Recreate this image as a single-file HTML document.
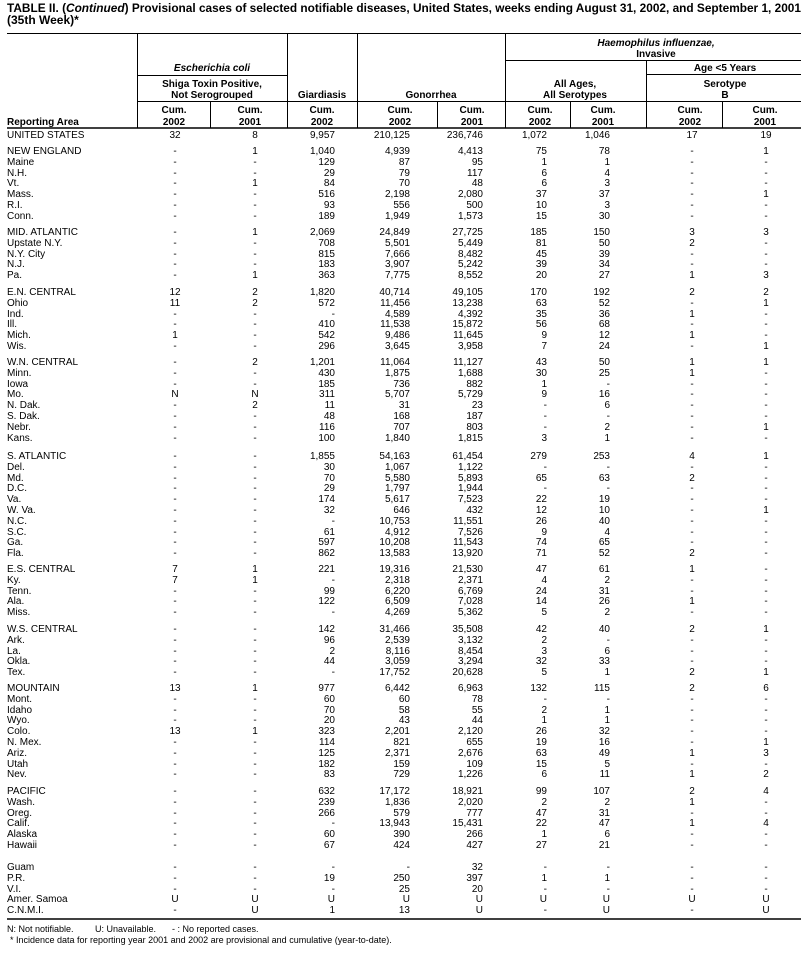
<!DOCTYPE html>
<html><head><meta charset="utf-8"><style>
body{margin:0;background:#fff;}
#w{position:relative;width:808px;height:955px;overflow:hidden;font-family:"Liberation Sans",Arial,sans-serif;color:#000;}
svg{position:absolute;left:0;top:0;}
.r{position:absolute;left:0;width:808px;height:12px;line-height:12px;font-size:10px;white-space:nowrap;}
.r span{position:absolute;top:0;}
.r span:nth-child(1){left:7px;}
.r span:nth-child(2){left:145px;width:60px;text-align:center;}
.r span:nth-child(3){left:225px;width:60px;text-align:center;}
.r span:nth-child(4){left:265px;width:70px;text-align:right;}
.r span:nth-child(5){left:340px;width:70px;text-align:right;}
.r span:nth-child(6){left:413px;width:70px;text-align:right;}
.r span:nth-child(7){left:477px;width:70px;text-align:right;}
.r span:nth-child(8){left:540px;width:70px;text-align:right;}
.r span:nth-child(9){left:662px;width:60px;text-align:center;}
.r span:nth-child(10){left:736px;width:60px;text-align:center;}
</style></head><body><div id="w">
<svg width="808" height="955" font-family="Liberation Sans, Arial, sans-serif">
<text x="7" y="12" font-size="12" font-weight="bold" textLength="794" lengthAdjust="spacingAndGlyphs">TABLE II. (<tspan font-style="italic">Continued</tspan>) Provisional cases of selected notifiable diseases, United States, weeks ending August 31, 2002, and September 1, 2001</text>
<text x="7" y="24" font-size="12" font-weight="bold">(35th Week)*</text>
<g stroke="#000" stroke-width="1">
<line x1="7" y1="33.5" x2="801" y2="33.5"/>
<line x1="137.5" y1="33" x2="137.5" y2="128"/>
<line x1="287.5" y1="33" x2="287.5" y2="128"/>
<line x1="357.5" y1="33" x2="357.5" y2="128"/>
<line x1="505.5" y1="33" x2="505.5" y2="128"/>
<line x1="137" y1="75.5" x2="287" y2="75.5"/>
<line x1="505" y1="60.5" x2="801" y2="60.5"/>
<line x1="646" y1="74.5" x2="801" y2="74.5"/>
<line x1="646.5" y1="60" x2="646.5" y2="128"/>
<line x1="137" y1="101.5" x2="801" y2="101.5"/>
<line x1="210.5" y1="101" x2="210.5" y2="128"/>
<line x1="437.5" y1="101" x2="437.5" y2="128"/>
<line x1="570.5" y1="101" x2="570.5" y2="128"/>
<line x1="722.5" y1="101" x2="722.5" y2="128"/>
</g>
<line x1="7" y1="128" x2="801" y2="128" stroke="#000" stroke-width="1.6"/>
<line x1="7" y1="919" x2="801" y2="919" stroke="#000" stroke-width="1.6"/>
<g font-size="10" font-weight="bold" text-anchor="middle">
<text x="212" y="71" font-style="italic">Escherichia coli</text>
<text x="212" y="87">Shiga Toxin Positive,</text>
<text x="212" y="98">Not Serogrouped</text>
<text x="322" y="98">Giardiasis</text>
<text x="431" y="98">Gonorrhea</text>
<text x="656" y="46" font-style="italic">Haemophilus influenzae,</text>
<text x="656" y="57">Invasive</text>
<text x="725" y="71">Age &lt;5 Years</text>
<text x="575" y="87">All Ages,</text>
<text x="575" y="98">All Serotypes</text>
<text x="725" y="87">Serotype</text>
<text x="725" y="98">B</text>
<text x="174" y="113">Cum.</text><text x="174" y="125">2002</text>
<text x="250" y="113">Cum.</text><text x="250" y="125">2001</text>
<text x="322" y="113">Cum.</text><text x="322" y="125">2002</text>
<text x="400" y="113">Cum.</text><text x="400" y="125">2002</text>
<text x="472" y="113">Cum.</text><text x="472" y="125">2001</text>
<text x="540" y="113">Cum.</text><text x="540" y="125">2002</text>
<text x="603" y="113">Cum.</text><text x="603" y="125">2001</text>
<text x="690" y="113">Cum.</text><text x="690" y="125">2002</text>
<text x="765" y="113">Cum.</text><text x="765" y="125">2001</text>
<text x="7" y="125" text-anchor="start">Reporting Area</text>
</g>
<g font-size="9">
<text x="7" y="932">N: Not notifiable.</text>
<text x="95" y="932">U: Unavailable.</text>
<text x="172" y="932">- : No reported cases.</text>
<text x="10" y="943">*  Incidence data for reporting year 2001 and 2002 are provisional and cumulative (year-to-date).</text>
</g>
</svg>
<div class="r" style="top:130px"><span>UNITED STATES</span><span>32</span><span>8</span><span>9,957</span><span>210,125</span><span>236,746</span><span>1,072</span><span>1,046</span><span>17</span><span>19</span></div>
<div class="r" style="top:146px"><span>NEW ENGLAND</span><span>-</span><span>1</span><span>1,040</span><span>4,939</span><span>4,413</span><span>75</span><span>78</span><span>-</span><span>1</span></div>
<div class="r" style="top:156.8px"><span>Maine</span><span>-</span><span>-</span><span>129</span><span>87</span><span>95</span><span>1</span><span>1</span><span>-</span><span>-</span></div>
<div class="r" style="top:167.6px"><span>N.H.</span><span>-</span><span>-</span><span>29</span><span>79</span><span>117</span><span>6</span><span>4</span><span>-</span><span>-</span></div>
<div class="r" style="top:178.4px"><span>Vt.</span><span>-</span><span>1</span><span>84</span><span>70</span><span>48</span><span>6</span><span>3</span><span>-</span><span>-</span></div>
<div class="r" style="top:189.2px"><span>Mass.</span><span>-</span><span>-</span><span>516</span><span>2,198</span><span>2,080</span><span>37</span><span>37</span><span>-</span><span>1</span></div>
<div class="r" style="top:200px"><span>R.I.</span><span>-</span><span>-</span><span>93</span><span>556</span><span>500</span><span>10</span><span>3</span><span>-</span><span>-</span></div>
<div class="r" style="top:210.8px"><span>Conn.</span><span>-</span><span>-</span><span>189</span><span>1,949</span><span>1,573</span><span>15</span><span>30</span><span>-</span><span>-</span></div>
<div class="r" style="top:227px"><span>MID. ATLANTIC</span><span>-</span><span>1</span><span>2,069</span><span>24,849</span><span>27,725</span><span>185</span><span>150</span><span>3</span><span>3</span></div>
<div class="r" style="top:237.8px"><span>Upstate N.Y.</span><span>-</span><span>-</span><span>708</span><span>5,501</span><span>5,449</span><span>81</span><span>50</span><span>2</span><span>-</span></div>
<div class="r" style="top:248.6px"><span>N.Y. City</span><span>-</span><span>-</span><span>815</span><span>7,666</span><span>8,482</span><span>45</span><span>39</span><span>-</span><span>-</span></div>
<div class="r" style="top:259.4px"><span>N.J.</span><span>-</span><span>-</span><span>183</span><span>3,907</span><span>5,242</span><span>39</span><span>34</span><span>-</span><span>-</span></div>
<div class="r" style="top:270.2px"><span>Pa.</span><span>-</span><span>1</span><span>363</span><span>7,775</span><span>8,552</span><span>20</span><span>27</span><span>1</span><span>3</span></div>
<div class="r" style="top:287px"><span>E.N. CENTRAL</span><span>12</span><span>2</span><span>1,820</span><span>40,714</span><span>49,105</span><span>170</span><span>192</span><span>2</span><span>2</span></div>
<div class="r" style="top:297.8px"><span>Ohio</span><span>11</span><span>2</span><span>572</span><span>11,456</span><span>13,238</span><span>63</span><span>52</span><span>-</span><span>1</span></div>
<div class="r" style="top:308.6px"><span>Ind.</span><span>-</span><span>-</span><span>-</span><span>4,589</span><span>4,392</span><span>35</span><span>36</span><span>1</span><span>-</span></div>
<div class="r" style="top:319.4px"><span>Ill.</span><span>-</span><span>-</span><span>410</span><span>11,538</span><span>15,872</span><span>56</span><span>68</span><span>-</span><span>-</span></div>
<div class="r" style="top:330.2px"><span>Mich.</span><span>1</span><span>-</span><span>542</span><span>9,486</span><span>11,645</span><span>9</span><span>12</span><span>1</span><span>-</span></div>
<div class="r" style="top:341px"><span>Wis.</span><span>-</span><span>-</span><span>296</span><span>3,645</span><span>3,958</span><span>7</span><span>24</span><span>-</span><span>1</span></div>
<div class="r" style="top:357px"><span>W.N. CENTRAL</span><span>-</span><span>2</span><span>1,201</span><span>11,064</span><span>11,127</span><span>43</span><span>50</span><span>1</span><span>1</span></div>
<div class="r" style="top:367.8px"><span>Minn.</span><span>-</span><span>-</span><span>430</span><span>1,875</span><span>1,688</span><span>30</span><span>25</span><span>1</span><span>-</span></div>
<div class="r" style="top:378.6px"><span>Iowa</span><span>-</span><span>-</span><span>185</span><span>736</span><span>882</span><span>1</span><span>-</span><span>-</span><span>-</span></div>
<div class="r" style="top:389.4px"><span>Mo.</span><span>N</span><span>N</span><span>311</span><span>5,707</span><span>5,729</span><span>9</span><span>16</span><span>-</span><span>-</span></div>
<div class="r" style="top:400.2px"><span>N. Dak.</span><span>-</span><span>2</span><span>11</span><span>31</span><span>23</span><span>-</span><span>6</span><span>-</span><span>-</span></div>
<div class="r" style="top:411px"><span>S. Dak.</span><span>-</span><span>-</span><span>48</span><span>168</span><span>187</span><span>-</span><span>-</span><span>-</span><span>-</span></div>
<div class="r" style="top:421.8px"><span>Nebr.</span><span>-</span><span>-</span><span>116</span><span>707</span><span>803</span><span>-</span><span>2</span><span>-</span><span>1</span></div>
<div class="r" style="top:432.6px"><span>Kans.</span><span>-</span><span>-</span><span>100</span><span>1,840</span><span>1,815</span><span>3</span><span>1</span><span>-</span><span>-</span></div>
<div class="r" style="top:451px"><span>S. ATLANTIC</span><span>-</span><span>-</span><span>1,855</span><span>54,163</span><span>61,454</span><span>279</span><span>253</span><span>4</span><span>1</span></div>
<div class="r" style="top:461.8px"><span>Del.</span><span>-</span><span>-</span><span>30</span><span>1,067</span><span>1,122</span><span>-</span><span>-</span><span>-</span><span>-</span></div>
<div class="r" style="top:472.6px"><span>Md.</span><span>-</span><span>-</span><span>70</span><span>5,580</span><span>5,893</span><span>65</span><span>63</span><span>2</span><span>-</span></div>
<div class="r" style="top:483.4px"><span>D.C.</span><span>-</span><span>-</span><span>29</span><span>1,797</span><span>1,944</span><span>-</span><span>-</span><span>-</span><span>-</span></div>
<div class="r" style="top:494.2px"><span>Va.</span><span>-</span><span>-</span><span>174</span><span>5,617</span><span>7,523</span><span>22</span><span>19</span><span>-</span><span>-</span></div>
<div class="r" style="top:505px"><span>W. Va.</span><span>-</span><span>-</span><span>32</span><span>646</span><span>432</span><span>12</span><span>10</span><span>-</span><span>1</span></div>
<div class="r" style="top:515.8px"><span>N.C.</span><span>-</span><span>-</span><span>-</span><span>10,753</span><span>11,551</span><span>26</span><span>40</span><span>-</span><span>-</span></div>
<div class="r" style="top:526.6px"><span>S.C.</span><span>-</span><span>-</span><span>61</span><span>4,912</span><span>7,526</span><span>9</span><span>4</span><span>-</span><span>-</span></div>
<div class="r" style="top:537.4px"><span>Ga.</span><span>-</span><span>-</span><span>597</span><span>10,208</span><span>11,543</span><span>74</span><span>65</span><span>-</span><span>-</span></div>
<div class="r" style="top:548.2px"><span>Fla.</span><span>-</span><span>-</span><span>862</span><span>13,583</span><span>13,920</span><span>71</span><span>52</span><span>2</span><span>-</span></div>
<div class="r" style="top:564px"><span>E.S. CENTRAL</span><span>7</span><span>1</span><span>221</span><span>19,316</span><span>21,530</span><span>47</span><span>61</span><span>1</span><span>-</span></div>
<div class="r" style="top:574.8px"><span>Ky.</span><span>7</span><span>1</span><span>-</span><span>2,318</span><span>2,371</span><span>4</span><span>2</span><span>-</span><span>-</span></div>
<div class="r" style="top:585.6px"><span>Tenn.</span><span>-</span><span>-</span><span>99</span><span>6,220</span><span>6,769</span><span>24</span><span>31</span><span>-</span><span>-</span></div>
<div class="r" style="top:596.4px"><span>Ala.</span><span>-</span><span>-</span><span>122</span><span>6,509</span><span>7,028</span><span>14</span><span>26</span><span>1</span><span>-</span></div>
<div class="r" style="top:607.2px"><span>Miss.</span><span>-</span><span>-</span><span>-</span><span>4,269</span><span>5,362</span><span>5</span><span>2</span><span>-</span><span>-</span></div>
<div class="r" style="top:624px"><span>W.S. CENTRAL</span><span>-</span><span>-</span><span>142</span><span>31,466</span><span>35,508</span><span>42</span><span>40</span><span>2</span><span>1</span></div>
<div class="r" style="top:634.8px"><span>Ark.</span><span>-</span><span>-</span><span>96</span><span>2,539</span><span>3,132</span><span>2</span><span>-</span><span>-</span><span>-</span></div>
<div class="r" style="top:645.6px"><span>La.</span><span>-</span><span>-</span><span>2</span><span>8,116</span><span>8,454</span><span>3</span><span>6</span><span>-</span><span>-</span></div>
<div class="r" style="top:656.4px"><span>Okla.</span><span>-</span><span>-</span><span>44</span><span>3,059</span><span>3,294</span><span>32</span><span>33</span><span>-</span><span>-</span></div>
<div class="r" style="top:667.2px"><span>Tex.</span><span>-</span><span>-</span><span>-</span><span>17,752</span><span>20,628</span><span>5</span><span>1</span><span>2</span><span>1</span></div>
<div class="r" style="top:683px"><span>MOUNTAIN</span><span>13</span><span>1</span><span>977</span><span>6,442</span><span>6,963</span><span>132</span><span>115</span><span>2</span><span>6</span></div>
<div class="r" style="top:693.8px"><span>Mont.</span><span>-</span><span>-</span><span>60</span><span>60</span><span>78</span><span>-</span><span>-</span><span>-</span><span>-</span></div>
<div class="r" style="top:704.6px"><span>Idaho</span><span>-</span><span>-</span><span>70</span><span>58</span><span>55</span><span>2</span><span>1</span><span>-</span><span>-</span></div>
<div class="r" style="top:715.4px"><span>Wyo.</span><span>-</span><span>-</span><span>20</span><span>43</span><span>44</span><span>1</span><span>1</span><span>-</span><span>-</span></div>
<div class="r" style="top:726.2px"><span>Colo.</span><span>13</span><span>1</span><span>323</span><span>2,201</span><span>2,120</span><span>26</span><span>32</span><span>-</span><span>-</span></div>
<div class="r" style="top:737px"><span>N. Mex.</span><span>-</span><span>-</span><span>114</span><span>821</span><span>655</span><span>19</span><span>16</span><span>-</span><span>1</span></div>
<div class="r" style="top:747.8px"><span>Ariz.</span><span>-</span><span>-</span><span>125</span><span>2,371</span><span>2,676</span><span>63</span><span>49</span><span>1</span><span>3</span></div>
<div class="r" style="top:758.6px"><span>Utah</span><span>-</span><span>-</span><span>182</span><span>159</span><span>109</span><span>15</span><span>5</span><span>-</span><span>-</span></div>
<div class="r" style="top:769.4px"><span>Nev.</span><span>-</span><span>-</span><span>83</span><span>729</span><span>1,226</span><span>6</span><span>11</span><span>1</span><span>2</span></div>
<div class="r" style="top:786px"><span>PACIFIC</span><span>-</span><span>-</span><span>632</span><span>17,172</span><span>18,921</span><span>99</span><span>107</span><span>2</span><span>4</span></div>
<div class="r" style="top:796.8px"><span>Wash.</span><span>-</span><span>-</span><span>239</span><span>1,836</span><span>2,020</span><span>2</span><span>2</span><span>1</span><span>-</span></div>
<div class="r" style="top:807.6px"><span>Oreg.</span><span>-</span><span>-</span><span>266</span><span>579</span><span>777</span><span>47</span><span>31</span><span>-</span><span>-</span></div>
<div class="r" style="top:818.4px"><span>Calif.</span><span>-</span><span>-</span><span>-</span><span>13,943</span><span>15,431</span><span>22</span><span>47</span><span>1</span><span>4</span></div>
<div class="r" style="top:829.2px"><span>Alaska</span><span>-</span><span>-</span><span>60</span><span>390</span><span>266</span><span>1</span><span>6</span><span>-</span><span>-</span></div>
<div class="r" style="top:840px"><span>Hawaii</span><span>-</span><span>-</span><span>67</span><span>424</span><span>427</span><span>27</span><span>21</span><span>-</span><span>-</span></div>
<div class="r" style="top:862px"><span>Guam</span><span>-</span><span>-</span><span>-</span><span>-</span><span>32</span><span>-</span><span>-</span><span>-</span><span>-</span></div>
<div class="r" style="top:872.8px"><span>P.R.</span><span>-</span><span>-</span><span>19</span><span>250</span><span>397</span><span>1</span><span>1</span><span>-</span><span>-</span></div>
<div class="r" style="top:883.6px"><span>V.I.</span><span>-</span><span>-</span><span>-</span><span>25</span><span>20</span><span>-</span><span>-</span><span>-</span><span>-</span></div>
<div class="r" style="top:894.4px"><span>Amer. Samoa</span><span>U</span><span>U</span><span>U</span><span>U</span><span>U</span><span>U</span><span>U</span><span>U</span><span>U</span></div>
<div class="r" style="top:905.2px"><span>C.N.M.I.</span><span>-</span><span>U</span><span>1</span><span>13</span><span>U</span><span>-</span><span>U</span><span>-</span><span>U</span></div>
</div></body></html>
